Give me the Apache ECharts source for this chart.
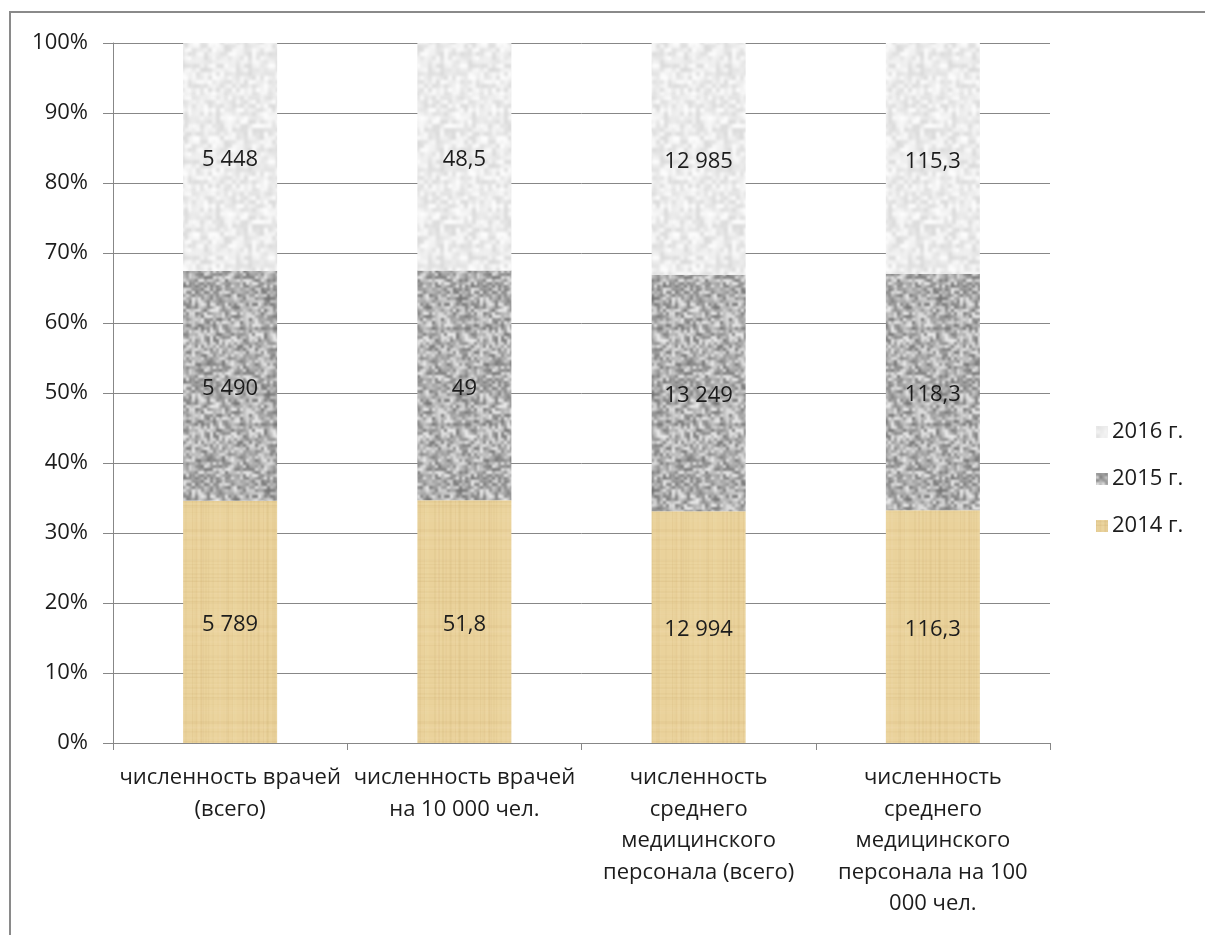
<!DOCTYPE html>
<html>
<head>
<meta charset="utf-8">
<script src="https://cdn.jsdelivr.net/npm/echarts@6/dist/echarts.min.js"></script>
<style>
  html, body { margin: 0; padding: 0; background: #ffffff; }
  #chart { width: 1205px; height: 935px; }
</style>
</head>
<body>
<div id="chart"></div>
<script>
// Categories and raw values per year
const categories = [
  'численность врачей\n(всего)',
  'численность врачей\nна 10 000 чел.',
  'численность\nсреднего\nмедицинского\nперсонала (всего)',
  'численность\nсреднего\nмедицинского\nперсонала на 100\n000 чел.'
];
const years = ['2014 г.', '2015 г.', '2016 г.'];
const values2014 = [5789, 51.8, 12994, 116.3];
const values2015 = [5490, 49, 13249, 118.3];
const values2016 = [5448, 48.5, 12985, 115.3];
const yTicks = [0, 10, 20, 30, 40, 50, 60, 70, 80, 90, 100];

const raw = [values2014, values2015, values2016];
const totals = categories.map((_, i) => raw.reduce((s, arr) => s + arr[i], 0));

// Russian-style number formatting: space for thousands, comma for decimals
function fmt(n) {
  const parts = String(n).split('.');
  parts[0] = parts[0].replace(/\B(?=(\d{3})+(?!\d))/g, ' ');
  return parts.join(',');
}

// Deterministic pseudo-random generator for fill textures
function rng(seed) {
  let s = seed >>> 0;
  return function () {
    s = (s * 1664525 + 1013904223) >>> 0;
    return s / 4294967296;
  };
}

// Mottled (granite-like) texture
function mottled(size, cell, base, spread, blur, seed) {
  const rand = rng(seed);
  const src = document.createElement('canvas');
  src.width = src.height = size;
  const c = src.getContext('2d');
  for (let y = 0; y < size; y += cell) {
    for (let x = 0; x < size; x += cell) {
      const v = Math.max(0, Math.min(255, Math.round(base + (rand() - 0.5) * spread)));
      c.fillStyle = 'rgb(' + v + ',' + v + ',' + v + ')';
      c.fillRect(x, y, cell, cell);
    }
  }
  const out = document.createElement('canvas');
  out.width = out.height = size;
  const o = out.getContext('2d');
  o.fillStyle = 'rgb(' + base + ',' + base + ',' + base + ')';
  o.fillRect(0, 0, size, size);
  o.filter = 'blur(' + blur + 'px)';
  for (let dx = -1; dx <= 1; dx++) {
    for (let dy = -1; dy <= 1; dy++) {
      o.drawImage(src, dx * size, dy * size);
    }
  }
  return out;
}

// Papyrus-like beige texture with fine streaks
function papyrus(size, seed) {
  const rand = rng(seed);
  const cv = document.createElement('canvas');
  cv.width = cv.height = size;
  const c = cv.getContext('2d');
  c.fillStyle = '#ead29b';
  c.fillRect(0, 0, size, size);
  for (let i = 0; i < 50; i++) {
    const x = Math.floor(rand() * size);
    const a = 0.02 + rand() * 0.05;
    c.fillStyle = rand() < 0.5 ? 'rgba(170,130,60,' + a + ')' : 'rgba(255,245,215,' + a + ')';
    c.fillRect(x, 0, 1 + Math.floor(rand() * 2), size);
  }
  for (let i = 0; i < 40; i++) {
    const y = Math.floor(rand() * size);
    const a = 0.02 + rand() * 0.05;
    c.fillStyle = rand() < 0.5 ? 'rgba(170,130,60,' + a + ')' : 'rgba(255,245,215,' + a + ')';
    c.fillRect(0, y, size, 1 + Math.floor(rand() * 2));
  }
  return cv;
}

const texture2014 = papyrus(96, 7);
const texture2015 = mottled(96, 3, 176, 125, 1.1, 11);
const texture2016 = mottled(96, 4, 236, 40, 1.5, 23);
const textures = [texture2014, texture2015, texture2016];

const fontFamily = '"Open Sans", Lato, "Noto Sans", sans-serif';
const textColor = '#1c1c1c';
const axisGray = '#878787';

const series = years.map((name, k) => ({
  name: name,
  type: 'bar',
  stack: 'share',
  barWidth: 94,
  data: raw[k].map((v, i) => v / totals[i] * 100),
  itemStyle: { color: { image: textures[k], repeat: 'repeat' } },
  label: {
    show: true,
    position: 'inside',
    offset: [0, 3],
    color: textColor,
    fontFamily: fontFamily,
    fontSize: 22,
    formatter: p => fmt(raw[k][p.dataIndex])
  },
  emphasis: { disabled: true }
}));

const chart = echarts.init(document.getElementById('chart'), null, { renderer: 'canvas' });
chart.setOption({
  animation: false,
  backgroundColor: '#ffffff',
  graphic: [{
    type: 'rect',
    shape: { x: 10, y: 12, width: 1300, height: 1000 },
    style: { fill: 'none', stroke: '#8a8a8a', lineWidth: 2 },
    silent: true,
    z: -1
  }],
  grid: { left: 113, right: 155, top: 43, bottom: 192, containLabel: false },
  legend: {
    orient: 'vertical',
    left: 1091,
    top: 414,
    itemWidth: 12,
    itemHeight: 12,
    itemGap: 21,
    icon: 'rect',
    data: ['2016 г.', '2015 г.', '2014 г.'],
    textStyle: { fontFamily: fontFamily, fontSize: 22, lineHeight: 26, color: textColor, padding: [0, 0, 0, -1] }
  },
  xAxis: {
    type: 'category',
    data: categories,
    axisLine: { lineStyle: { color: axisGray, width: 1 } },
    axisTick: { show: true, length: 7, lineStyle: { color: axisGray } },
    axisLabel: {
      interval: 0,
      margin: 19,
      color: textColor,
      fontFamily: fontFamily,
      fontSize: 22,
      lineHeight: 31.5,
      align: 'center'
    }
  },
  yAxis: {
    type: 'value',
    min: yTicks[0],
    max: yTicks[yTicks.length - 1],
    interval: 10,
    axisLine: { show: true, lineStyle: { color: axisGray, width: 1 } },
    axisTick: { show: true, length: 10, lineStyle: { color: axisGray } },
    splitLine: { show: true, lineStyle: { color: axisGray, width: 1 } },
    axisLabel: {
      margin: 25,
      color: textColor,
      fontFamily: fontFamily,
      fontSize: 22,
      formatter: v => v + '%'
    }
  },
  series: series
});
</script>
</body>
</html>
